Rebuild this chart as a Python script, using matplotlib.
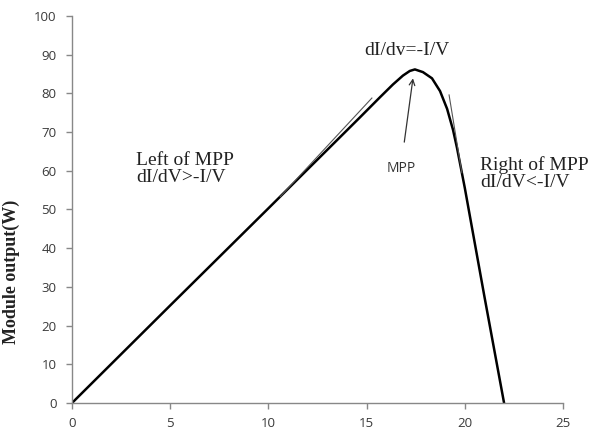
import matplotlib.pyplot as plt

# P-V curve
voltage = [0, 5, 10, 14.66, 15.68, 16.34, 16.85, 17.2, 17.46, 17.87, 18.33, 18.74,
           19.1, 19.4, 19.6, 20.0, 21.0, 22.0]
power = [0, 25.2, 50.3, 73.8, 79.0, 82.3, 84.6, 85.8, 86.2, 85.5, 83.9, 80.6,
         76.0, 70.6, 66.0, 55.6, 27.5, 0]

# thin tangent lines on both sides of the MPP
left_tan_v = [10.6, 15.27]
left_tan_p = [53.3, 78.8]
right_tan_v = [19.2, 19.85]
right_tan_p = [79.6, 59.5]

xticks = [0, 5, 10, 15, 20, 25]
yticks = list(range(0, 101, 10))

serif = ['Liberation Serif', 'DejaVu Serif']
sans = ['Open Sans', 'DejaVu Sans']

fig = plt.figure(figsize=(5.91, 4.41), dpi=100)
ax = fig.add_axes([0.1218, 0.0862, 0.8308, 0.8775])

ax.plot(voltage, power, color='black', lw=1.8, solid_joinstyle='round')
ax.plot(left_tan_v, left_tan_p, color='#555555', lw=0.8)
ax.plot(right_tan_v, right_tan_p, color='#555555', lw=0.8)

ax.set_xlim(0, 25)
ax.set_ylim(0, 100)
ax.set_xticks(xticks)
ax.set_yticks(yticks)
for side in ['top', 'right']:
    ax.spines[side].set_visible(False)
for side in ['left', 'bottom']:
    ax.spines[side].set_color('#888888')
    ax.spines[side].set_linewidth(1.0)
ax.tick_params(axis='both', colors='#888888', length=4, width=1.0,
               labelcolor='#3a3a3a', labelsize=9.5)
ax.tick_params(axis='x', pad=6)
ax.tick_params(axis='y', pad=7)
for lbl in ax.get_xticklabels() + ax.get_yticklabels():
    lbl.set_family(sans)

ax.set_ylabel('Module output(W)', family=serif, fontweight='bold', fontsize=13,
              color='#222222')
ax.yaxis.set_label_coords(-0.105, 0.34)

ax.text(17.06, 91.2, 'dI/dv=-I/V', family=serif, fontsize=14, ha='center', va='center',
        color='#222222')
ax.annotate('', xy=(17.38, 84.6), xytext=(16.9, 66.7),
            arrowprops=dict(arrowstyle='->', color='#333333', lw=0.9))
ax.text(16.75, 60.7, 'MPP', family=sans, fontsize=10, ha='center', va='center', color='#333333')
ax.text(3.26, 60.5, 'Left of MPP\ndI/dV>-I/V', family=serif, fontsize=14, ha='left',
        va='center', linespacing=1.0, color='#222222')
ax.text(20.77, 59.4, 'Right of MPP\ndI/dV<-I/V', family=serif, fontsize=14, ha='left',
        va='center', linespacing=1.0, color='#222222')

fig.savefig('out.png', dpi=100)
